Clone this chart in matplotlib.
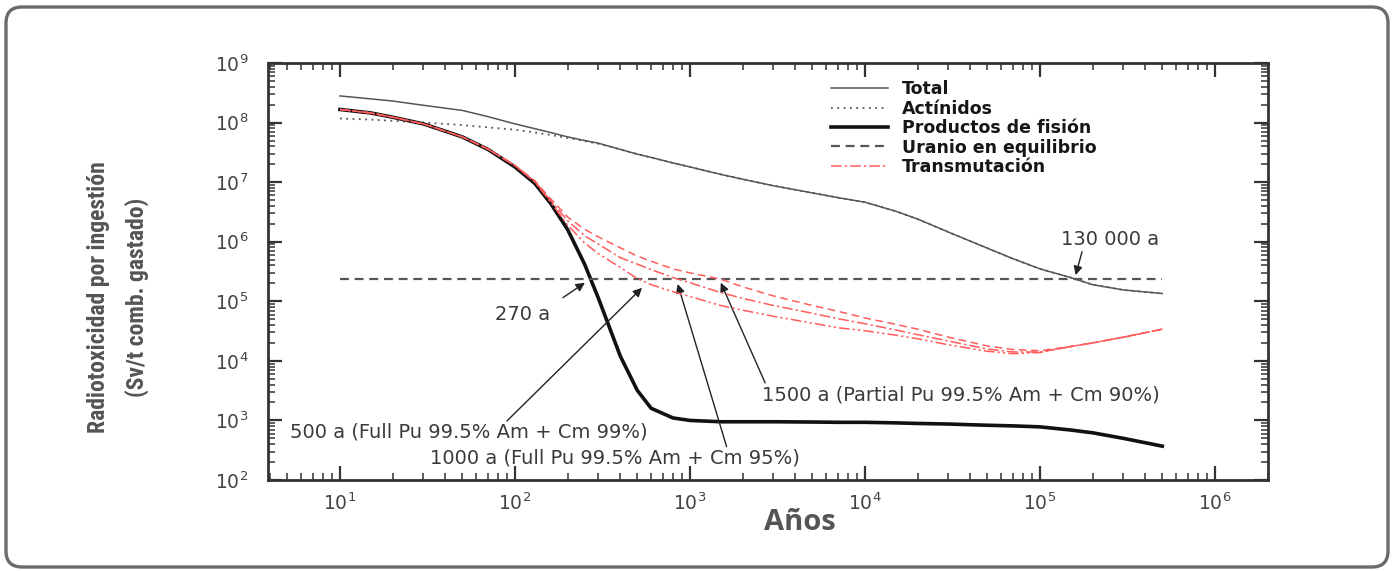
import matplotlib
matplotlib.use("Agg")
import matplotlib.pyplot as plt
from matplotlib.patches import FancyBboxPatch
from matplotlib.ticker import LogLocator, LogFormatterMathtext, NullFormatter
from matplotlib import font_manager

# ---------------- data ----------------
years = [10, 15, 20, 30, 50, 70, 100, 130, 160, 200, 250, 300, 400, 500, 600, 800,
         1000, 1500, 2000, 3000, 5000, 7000, 1e4, 1.5e4, 2e4, 3e4, 5e4, 7e4, 1e5,
         1.5e5, 2e5, 3e5, 5e5]

total = [2.8e8, 2.5e8, 2.3e8, 1.95e8, 1.6e8, 1.26e8, 9.5e7, 7.9e7, 6.8e7, 5.75e7, 5.0e7,
         4.5e7, 3.55e7, 2.95e7, 2.6e7, 2.1e7, 1.8e7, 1.35e7, 1.12e7, 8.7e6, 6.6e6, 5.5e6,
         4.6e6, 3.25e6, 2.4e6, 1.45e6, 7.8e5, 5.2e5, 3.5e5, 2.5e5, 1.9e5, 1.55e5, 1.35e5]

actinidos = [1.17e8, 1.12e8, 1.07e8, 1.0e8, 9.1e7, 8.3e7, 7.6e7, 6.8e7, 6.2e7, 5.5e7, 4.9e7,
             4.4e7, 3.55e7, 2.95e7, 2.6e7, 2.1e7, 1.8e7, 1.35e7, 1.12e7, 8.7e6, 6.6e6, 5.5e6,
             4.6e6, 3.25e6, 2.4e6, 1.45e6, 7.8e5, 5.2e5, 3.5e5, 2.5e5, 1.9e5, 1.55e5, 1.35e5]

fision = [1.66e8, 1.45e8, 1.23e8, 9.5e7, 5.75e7, 3.55e7, 1.8e7, 9.5e6, 4.4e6, 1.6e6, 4.2e5,
          1.12e5, 1.2e4, 3.2e3, 1.6e3, 1.1e3, 1.0e3, 9.5e2, 9.5e2, 9.5e2, 9.4e2, 9.3e2,
          9.3e2, 9.1e2, 8.9e2, 8.7e2, 8.3e2, 8.1e2, 7.8e2, 6.9e2, 6.2e2, 5.0e2, 3.7e2]

transm_90 = [1.66e8, 1.45e8, 1.23e8, 9.5e7, 5.75e7, 3.6e7, 1.9e7, 1.05e7, 5.25e6, 2.6e6,
             1.62e6, 1.2e6, 7.9e5, 5.75e5, 4.7e5, 3.5e5, 3.0e5, 2.35e5, 1.75e5, 1.23e5,
             8.5e4, 6.8e4, 5.25e4, 4.1e4, 3.4e4, 2.5e4, 1.78e4, 1.55e4, 1.48e4, 1.74e4,
             2.0e4, 2.5e4, 3.4e4]
transm_95 = [1.66e8, 1.45e8, 1.23e8, 9.5e7, 5.75e7, 3.6e7, 1.9e7, 1.02e7, 4.9e6, 2.25e6,
             1.26e6, 9.1e5, 5.4e5, 4.2e5, 3.4e5, 2.5e5, 2.05e5, 1.4e5, 1.12e5, 8.5e4,
             6.3e4, 5.1e4, 4.2e4, 3.3e4, 2.75e4, 2.15e4, 1.58e4, 1.41e4, 1.41e4, 1.74e4,
             2.0e4, 2.5e4, 3.4e4]
transm_99 = [1.66e8, 1.45e8, 1.23e8, 9.5e7, 5.75e7, 3.6e7, 1.9e7, 1.0e7, 4.6e6, 1.9e6,
             9.5e5, 6.3e5, 3.7e5, 2.4e5, 1.9e5, 1.45e5, 1.2e5, 8.5e4, 7.1e4, 5.6e4,
             4.3e4, 3.6e4, 3.2e4, 2.7e4, 2.35e4, 1.86e4, 1.45e4, 1.32e4, 1.38e4, 1.74e4,
             2.0e4, 2.5e4, 3.4e4]

uranio_x = [10, 5e5]
uranio_y = [2.4e5, 2.4e5]

legend_labels = ["Total", "Actínidos", "Productos de fisión", "Uranio en equilibrio", "Transmutación"]
ylabel_text = "Radiotoxicidad por ingestión\n(Sv/t comb. gastado)"
xlabel_text = "Años"

# annotations: (text, arrow tip year)
ann_130k = ("130 000 a", 1.6e5)
ann_270 = ("270 a", 251)
ann_500 = ("500 a (Full Pu 99.5% Am + Cm 99%)", 532)
ann_1000 = ("1000 a (Full Pu 99.5% Am + Cm 95%)", 851)
ann_1500 = ("1500 a (Partial Pu 99.5% Am + Cm 90%)", 1500)

# ---------------- figure ----------------
plt.rcParams['font.family'] = ['DejaVu Sans']
plt.rcParams['mathtext.default'] = 'regular'

fig = plt.figure(figsize=(13.92, 5.71), dpi=100)
fig.patch.set_facecolor('white')

frame = FancyBboxPatch((0.06, 0.04), 13.82, 5.60,
                       boxstyle="round,pad=0,rounding_size=0.16",
                       transform=fig.dpi_scale_trans, fill=False,
                       edgecolor='#6b6b6b', linewidth=2.4, zorder=0)
fig.patches.append(frame)

ax = fig.add_axes([268/1392, 1-480/571, 1000/1392, 417/571])
ax.set_xscale('log')
ax.set_yscale('log')
ax.set_xlim(3.88, 2.01e6)
ax.set_ylim(1e2, 1e9)

red = '#ff5c5c'
gray = '#555555'

ax.plot(years, total, color=gray, lw=1.1, label=legend_labels[0], zorder=3)
ax.plot(years, actinidos, color=gray, lw=1.3, ls=(0, (1, 2.5)), label=legend_labels[1], zorder=3)
ax.plot(years, fision, color='#111111', lw=2.6, label=legend_labels[2], zorder=3)
ax.plot(uranio_x, uranio_y, color=gray, lw=1.6, ls=(0, (4, 2.6)), label=legend_labels[3], zorder=3)
ax.plot(years, transm_95, color=red, lw=1.1, ls=(0, (7, 2, 1.5, 2)), label=legend_labels[4], zorder=4)
ax.plot(years, transm_90, color=red, lw=1.1, ls=(0, (5, 3)), zorder=4)
ax.plot(years, transm_99, color=red, lw=1.1, ls=(0, (7, 2, 1.5, 2, 1.5, 2)), zorder=4)

# axes styling
for s in ax.spines.values():
    s.set_linewidth(2.0)
    s.set_color('#333333')
ax.xaxis.set_major_locator(LogLocator(base=10, numticks=20))
ax.xaxis.set_minor_locator(LogLocator(base=10, subs=range(2, 10), numticks=100))
ax.yaxis.set_major_locator(LogLocator(base=10, numticks=20))
ax.yaxis.set_minor_locator(LogLocator(base=10, subs=range(2, 10), numticks=100))
ax.xaxis.set_major_formatter(LogFormatterMathtext())
ax.yaxis.set_major_formatter(LogFormatterMathtext())
ax.xaxis.set_minor_formatter(NullFormatter())
ax.yaxis.set_minor_formatter(NullFormatter())
ax.tick_params(which='both', direction='in', top=True, right=True, colors='#333333')
ax.tick_params(which='major', length=10, width=1.6, labelsize=13.5, labelcolor='#444444')
ax.tick_params(which='minor', length=5, width=1.1)
ax.tick_params(axis='x', which='major', pad=9)
ax.tick_params(axis='y', which='major', pad=14)

# legend
leg = ax.legend(loc='upper left', bbox_to_anchor=(0.556, 0.975), frameon=False,
                prop={'weight': 'bold', 'size': 12.5}, handlelength=3.3,
                handletextpad=0.8, labelspacing=0.08, borderaxespad=0)
for t in leg.get_texts():
    t.set_color('#161616')

# annotations
akw = dict(arrowstyle='-|>', color='#222222', lw=1.0, mutation_scale=13,
           shrinkA=0, shrinkB=0)
tkw = dict(fontsize=14, color='#3a3a3a')

ax.text(2.5e5, 1.07e6, ann_130k[0], ha='center', va='center', **tkw)
ax.annotate('', xy=(ann_130k[1], 2.75e5), xytext=(1.74e5, 6.8e5), arrowprops=akw)

ax.text(110, 5.9e4, ann_270[0], ha='center', va='center', **tkw)
ax.annotate('', xy=(ann_270[1], 2.05e5), xytext=(188, 1.15e5), arrowprops=akw)

ax.text(5.2, 6.5e2, ann_500[0], ha='left', va='center', **tkw)
ax.annotate('', xy=(ann_500[1], 1.68e5), xytext=(90, 9.8e2), arrowprops=akw)

ax.text(32.7, 2.34e2, ann_1000[0], ha='left', va='center', **tkw)
ax.annotate('', xy=(ann_1000[1], 1.95e5), xytext=(1620, 3.63e2), arrowprops=akw)

ax.text(2570, 2.7e3, ann_1500[0], ha='left', va='center', **tkw)
ax.annotate('', xy=(ann_1500[1], 2.05e5), xytext=(2690, 4.27e3), arrowprops=akw)

# axis labels
names = {f.name for f in font_manager.fontManager.ttflist}
ycands = ['Liberation Sans Narrow', 'Roboto Condensed', 'Open Sans Condensed',
          'Noto Sans Condensed', 'DejaVu Sans Condensed']
yfam = [c for c in ycands if c in names]
if yfam:
    yfam = [yfam[0]]
    ysize = 17
else:
    yfam = ['Roboto', 'DejaVu Sans']
    ysize = 15
fig.text(118/1392, 1-297/571, ylabel_text, rotation=90, ha='center', va='center',
         family=yfam, fontweight='bold', fontsize=ysize,
         color='#555555', linespacing=1.75)

xfam = ['Open Sans', 'DejaVu Sans']
fig.text(800/1392, 1-523/571, xlabel_text, ha='center', va='center',
         family=xfam, fontweight='bold', fontsize=21, color='#555555')

fig.savefig('out.png', dpi=100, facecolor='white')
